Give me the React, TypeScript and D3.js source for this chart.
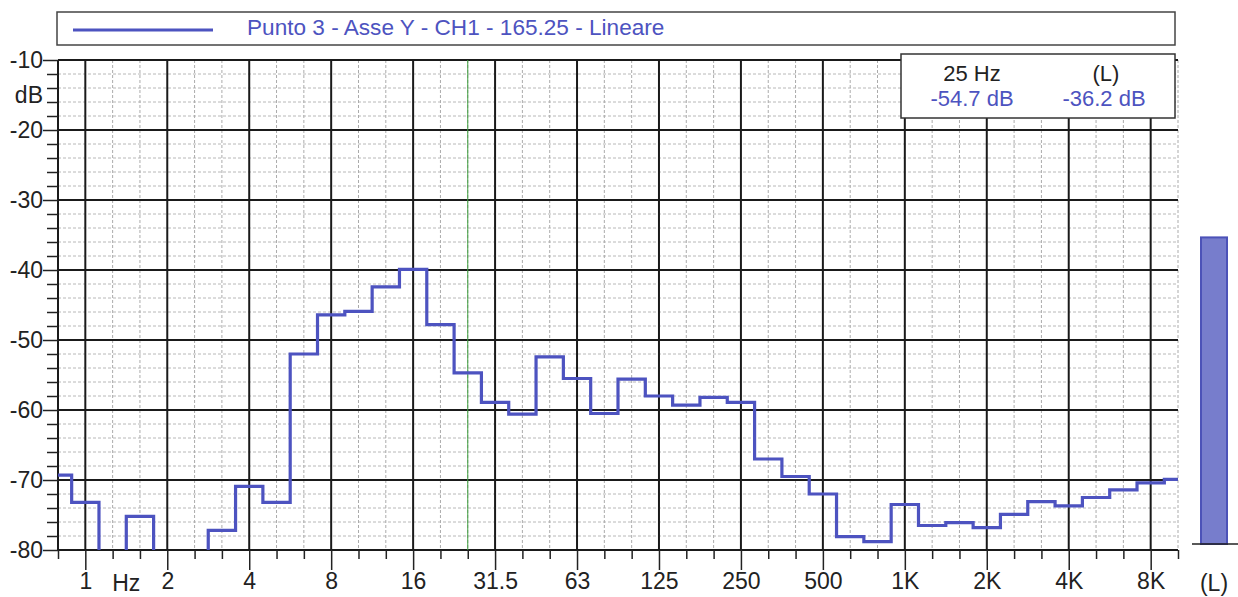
import React, { useEffect, useRef } from 'react';
import * as d3 from 'd3';

// third-octave band centres, 0.8 Hz .. 10 kHz
const bands = ['0.8', '1', '1.25', '1.6', '2', '2.5', '3.15', '4', '5', '6.3', '8', '10', '12.5', '16', '20', '25', '31.5', '40', '50', '63', '80', '100', '125', '160', '200', '250', '315', '400', '500', '630', '800', '1K', '1.25K', '1.6K', '2K', '2.5K', '3.15K', '4K', '5K', '6.3K', '8K', '10K'];

// level per band in dB (-85 = below the bottom of the scale)
const levels = [-69.3, -73.2, -85, -75.2, -85, -85, -77.2, -70.9, -73.2, -52.0, -46.4, -45.9, -42.4, -39.9, -47.8, -54.7, -58.9, -60.6, -52.4, -55.5, -60.5, -55.6, -58.0, -59.3, -58.2, -58.9, -67.0, -69.5, -72.0, -78.1, -78.8, -73.5, -76.5, -76.1, -76.8, -74.9, -73.1, -73.7, -72.5, -71.4, -70.4, -69.9];

const octaveBands = ['1', '2', '4', '8', '16', '31.5', '63', '125', '250', '500', '1K', '2K', '4K', '8K'];
const dbMajor = [-80, -70, -60, -50, -40, -30, -20, -10];

const seriesName = 'Punto 3 - Asse Y - CH1 - 165.25 - Lineare';
const cursorBand = '25';
const cursorLevel = -54.7;
const totalLevel = -36.2;

const BLUE = '#4d53c0';
const FONT = 'Liberation Sans, Arial, sans-serif';

function App() {
  const svgRef = useRef(null);

  useEffect(() => {
    const svg = d3.select(svgRef.current);
    svg.selectAll('*').remove();

    const W = 1238, H = 597;
    const left = 58, right = 1178, top = 60, bottom = 550;

    const x = d3.scalePoint().domain(bands).range([left, right]);
    const y = d3.scaleLinear().domain([-80, -10]).range([bottom, top]);
    const yBar = d3.scaleLinear().domain([-80, -10]).range([544, 54]);

    const dbMinor = d3.range(-80, -9, 2).filter(d => d % 10 !== 0);
    const minorBands = bands.filter(b => !octaveBands.includes(b));

    svg.append('rect').attr('width', W).attr('height', H).attr('fill', '#fff');

    // minor grid
    svg.append('g').selectAll('line')
      .data(dbMinor)
      .join('line')
      .attr('x1', left).attr('x2', right)
      .attr('y1', d => y(d)).attr('y2', d => y(d))
      .attr('stroke', '#b8b8b8').attr('stroke-width', 1).attr('stroke-dasharray', '3,2');

    svg.append('g').selectAll('line')
      .data(minorBands)
      .join('line')
      .attr('x1', d => x(d)).attr('x2', d => x(d))
      .attr('y1', top).attr('y2', bottom)
      .attr('stroke', '#ababab').attr('stroke-width', 1).attr('stroke-dasharray', '3,2');

    // major grid
    svg.append('g').selectAll('line')
      .data(dbMajor)
      .join('line')
      .attr('x1', left).attr('x2', right)
      .attr('y1', d => y(d)).attr('y2', d => y(d))
      .attr('stroke', '#1a1a1a').attr('stroke-width', 2);

    svg.append('g').selectAll('line')
      .data(octaveBands)
      .join('line')
      .attr('x1', d => x(d)).attr('x2', d => x(d))
      .attr('y1', top).attr('y2', bottom)
      .attr('stroke', '#1a1a1a').attr('stroke-width', 2);

    svg.append('line')
      .attr('x1', left).attr('x2', left).attr('y1', top).attr('y2', bottom)
      .attr('stroke', '#1a1a1a').attr('stroke-width', 2);

    // cursor
    svg.append('line')
      .attr('x1', x(cursorBand)).attr('x2', x(cursorBand))
      .attr('y1', top).attr('y2', bottom)
      .attr('stroke', '#3f9f3f').attr('stroke-width', 1);

    // spectrum
    svg.append('clipPath').attr('id', 'plotClip')
      .append('rect')
      .attr('x', left).attr('y', top)
      .attr('width', right - left).attr('height', bottom - top);

    const line = d3.line()
      .x((d, i) => x(bands[i]))
      .y(d => y(d))
      .curve(d3.curveStep);

    svg.append('path')
      .datum(levels)
      .attr('clip-path', 'url(#plotClip)')
      .attr('fill', 'none')
      .attr('stroke', BLUE)
      .attr('stroke-width', 3.2)
      .attr('d', line);

    // axes
    const styleAxis = (g) => {
      g.select('.domain').remove();
      g.selectAll('line').attr('stroke', '#222').attr('stroke-width', 1.5);
      g.selectAll('text')
        .attr('fill', '#222')
        .style('font-family', FONT)
        .style('font-size', '23px');
    };

    svg.append('g')
      .attr('transform', `translate(${left},0)`)
      .call(d3.axisLeft(y).tickValues(dbMajor).tickSize(15).tickPadding(0).tickFormat(d => String(d)))
      .call(styleAxis);

    svg.append('g')
      .attr('transform', `translate(${left},0)`)
      .call(d3.axisLeft(y).tickValues(dbMinor).tickSize(11).tickFormat(() => ''))
      .call(styleAxis);

    svg.append('g')
      .attr('transform', `translate(0,${bottom})`)
      .call(d3.axisBottom(x).tickValues(octaveBands).tickSize(20).tickPadding(3))
      .call(styleAxis);

    svg.append('g')
      .attr('transform', `translate(0,${bottom})`)
      .call(d3.axisBottom(x).tickValues(minorBands).tickSize(9).tickFormat(() => ''))
      .call(styleAxis);

    const label = (tx, ty, text, anchor, color = '#222', size = 23) =>
      svg.append('text')
        .attr('x', tx).attr('y', ty)
        .attr('text-anchor', anchor)
        .attr('fill', color)
        .style('font-family', FONT)
        .style('font-size', `${size}px`)
        .text(text);

    label(43, 103, 'dB', 'end');
    label((x('1.25') + x('1.6')) / 2, 591, 'Hz', 'middle');
    label(1214, 591, '(L)', 'middle');

    // legend
    svg.append('rect')
      .attr('x', 57).attr('y', 12).attr('width', 1118).attr('height', 33)
      .attr('fill', '#fff').attr('stroke', '#444').attr('stroke-width', 1.5);
    svg.append('line')
      .attr('x1', 73).attr('x2', 213).attr('y1', 30).attr('y2', 30)
      .attr('stroke', BLUE).attr('stroke-width', 3);
    label(247, 35, seriesName, 'start', BLUE, 22.6);

    // cursor readout
    svg.append('rect')
      .attr('x', 901).attr('y', 54).attr('width', 274).attr('height', 64)
      .attr('fill', '#fff').attr('stroke', '#333').attr('stroke-width', 1.5);
    label(972, 81, `${cursorBand} Hz`, 'middle', '#222', 22);
    label(1106, 81, '(L)', 'middle', '#222', 22);
    label(972, 106, `${cursorLevel} dB`, 'middle', BLUE, 22);
    label(1104, 106, `${totalLevel} dB`, 'middle', BLUE, 22);

    // overall level bar
    svg.append('rect')
      .attr('x', 1201).attr('width', 26)
      .attr('y', yBar(totalLevel)).attr('height', yBar(-80) - yBar(totalLevel))
      .attr('fill', '#777dcc').attr('stroke', '#4c52b8').attr('stroke-width', 2);
    svg.append('line')
      .attr('x1', 1192).attr('x2', 1238).attr('y1', yBar(-80)).attr('y2', yBar(-80))
      .attr('stroke', '#222').attr('stroke-width', 1.5);
  }, []);

  return (
    <svg
      ref={svgRef}
      width={1238}
      height={597}
      style={{ position: 'absolute', left: 0, top: 0, display: 'block' }}
    />
  );
}

export default App;
